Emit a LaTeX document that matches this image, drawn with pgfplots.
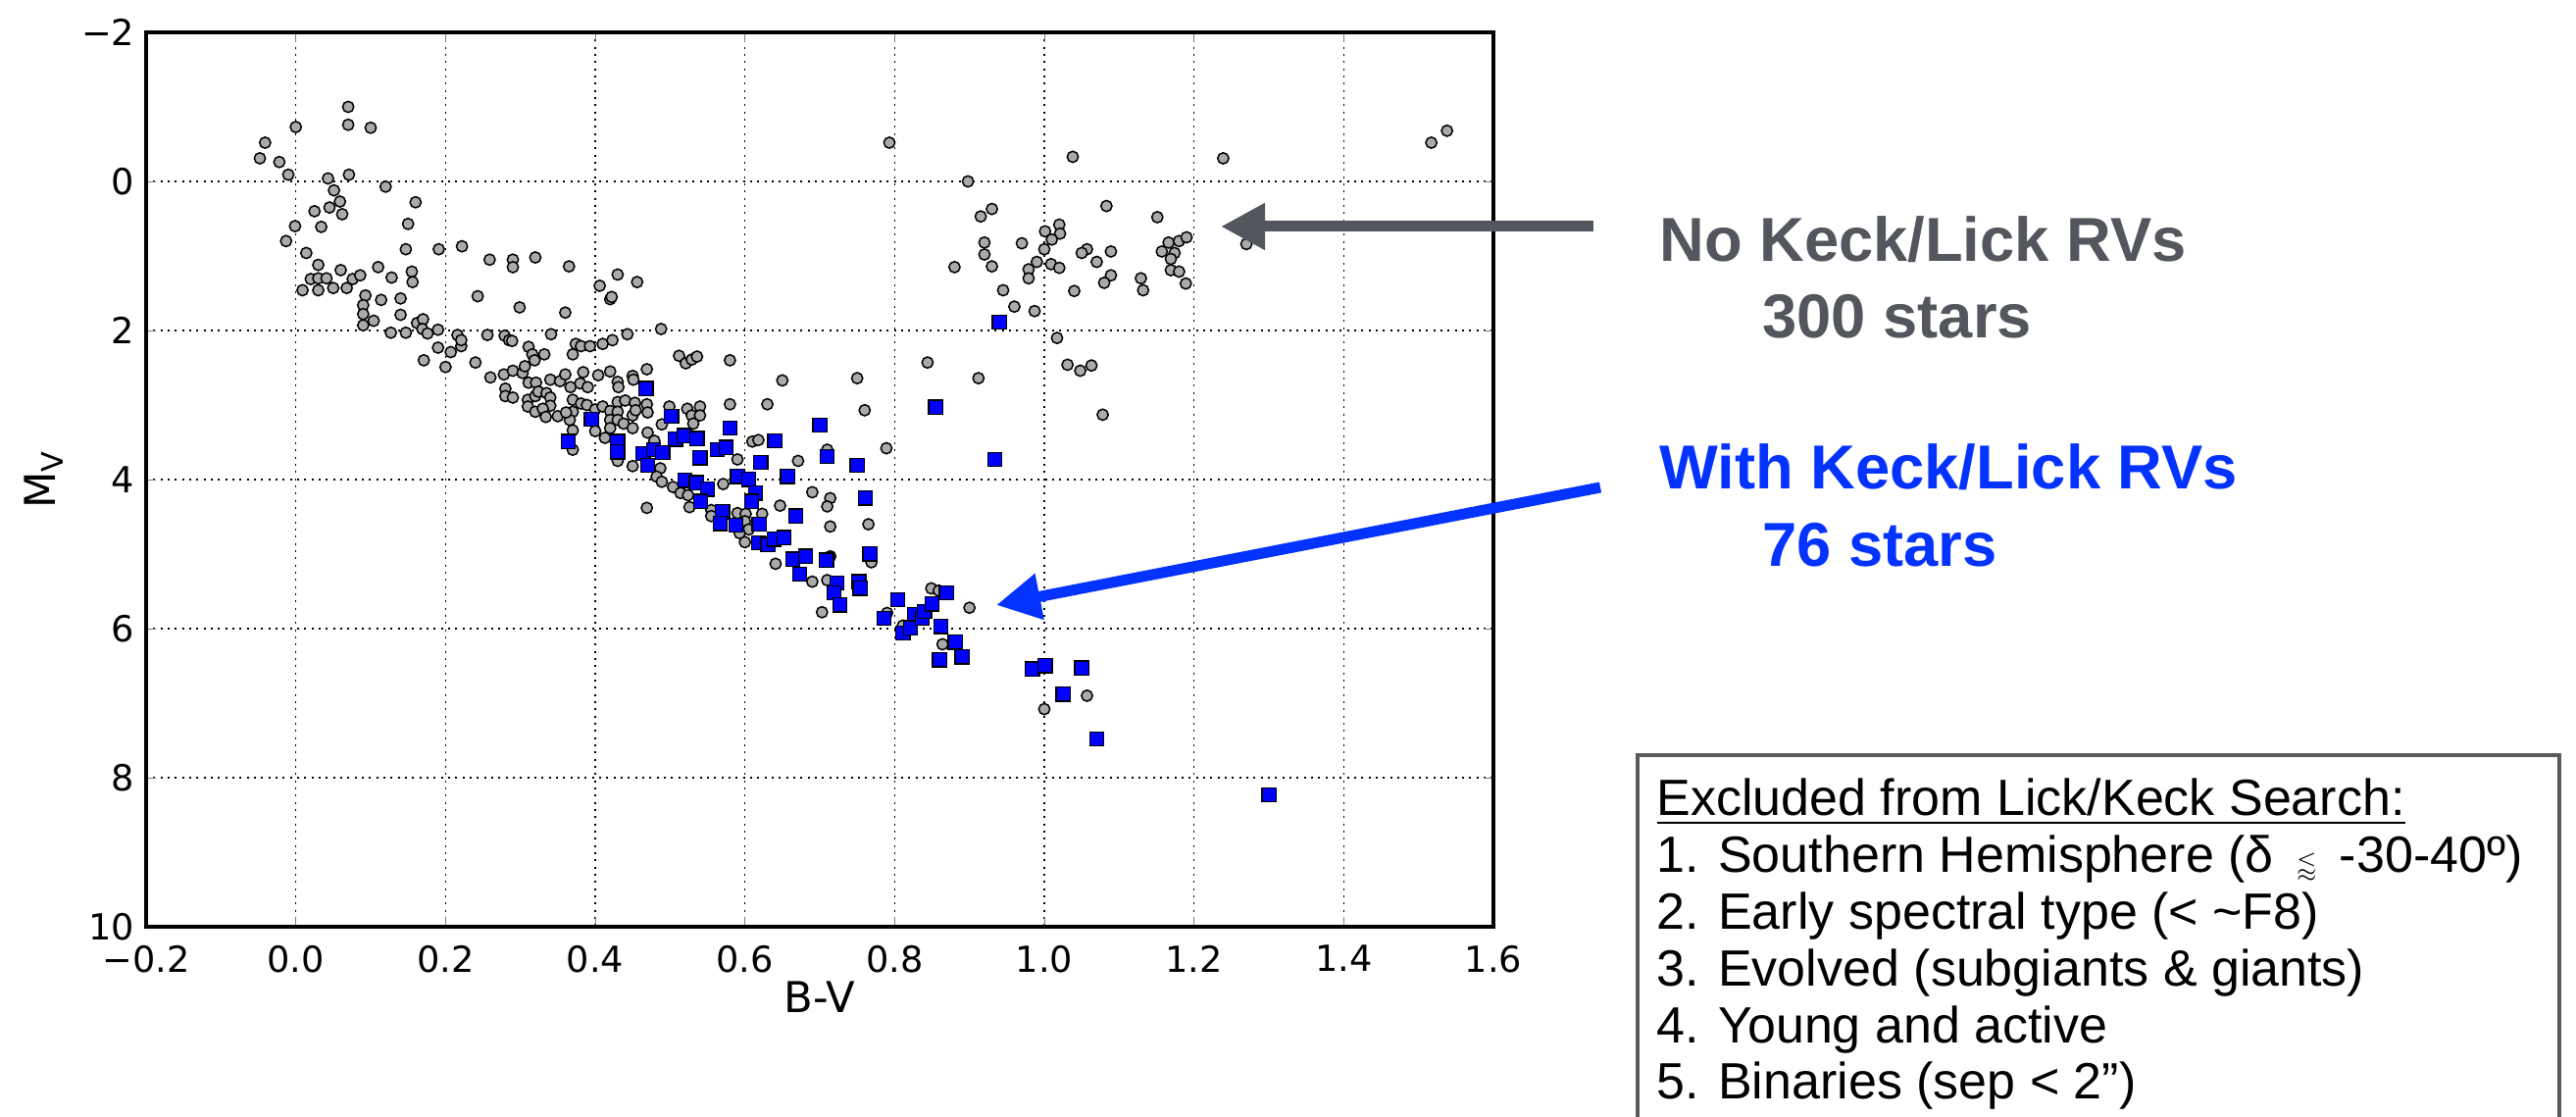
\documentclass[border=0pt]{standalone}
\usepackage{pgfplots}
\pgfplotsset{compat=1.18}
\usepackage{amssymb}
\usepackage{fontspec}
\setmainfont{Liberation Sans}
\newfontfamily\dejavu{DejaVu Sans}
\usetikzlibrary{arrows.meta}
\definecolor{ptgray}{RGB}{170,170,170}
\definecolor{ptblue}{RGB}{0,0,255}
\definecolor{txtgray}{RGB}{83,87,93}
\definecolor{txtblue}{RGB}{4,50,255}
\definecolor{boxgray}{RGB}{90,90,90}

\pgfplotstableread{
x y
0.070 -1.00
0.070 -0.76
0.100 -0.72
0.000 -0.73
-0.041 -0.52
-0.048 -0.31
-0.022 -0.26
-0.010 -0.09
0.071 -0.09
0.043 -0.04
0.120 0.07
0.051 0.12
0.059 0.27
0.045 0.35
0.025 0.40
0.062 0.44
0.160 0.28
0.150 0.57
-0.001 0.60
0.034 0.61
-0.013 0.80
0.014 0.96
0.147 0.91
0.191 0.91
0.222 0.87
0.259 1.05
0.030 1.12
0.060 1.19
0.110 1.15
0.128 1.29
0.155 1.21
0.156 1.35
0.020 1.31
0.030 1.30
0.041 1.30
0.076 1.31
0.086 1.26
0.009 1.46
0.030 1.46
0.050 1.43
0.068 1.43
0.093 1.53
0.090 1.66
0.090 1.78
0.090 1.93
0.104 1.87
0.114 1.59
0.140 1.57
0.140 1.79
0.243 1.54
0.127 2.03
0.147 2.03
0.162 1.90
0.170 1.85
0.169 1.98
0.176 2.04
0.190 1.99
0.190 2.23
0.207 2.29
0.216 2.06
0.221 2.21
0.221 2.13
0.256 2.06
0.279 2.07
0.171 2.40
0.200 2.49
0.240 2.43
0.290 1.05
0.290 1.15
0.320 1.02
0.365 1.14
0.299 1.69
0.360 1.76
0.406 1.40
0.430 1.25
0.456 1.35
0.420 1.58
0.422 1.55
0.488 1.98
0.285 2.13
0.289 2.14
0.311 2.22
0.316 2.32
0.319 2.40
0.332 2.32
0.341 2.05
0.374 2.18
0.370 2.32
0.381 2.21
0.393 2.21
0.410 2.18
0.423 2.13
0.443 2.05
0.512 2.34
0.521 2.44
0.529 2.39
0.536 2.35
0.580 2.40
0.650 2.67
0.260 2.63
0.278 2.59
0.290 2.54
0.303 2.57
0.306 2.48
0.311 2.70
0.321 2.70
0.280 2.78
0.280 2.88
0.290 2.90
0.310 2.93
0.310 3.02
0.320 2.88
0.324 2.82
0.335 2.84
0.340 2.90
0.340 3.01
0.320 3.09
0.330 3.05
0.334 3.16
0.340 2.66
0.350 3.15
0.353 2.68
0.360 2.59
0.367 2.76
0.370 2.93
0.370 3.09
0.366 3.20
0.361 3.10
0.380 2.71
0.384 2.56
0.390 2.76
0.381 2.98
0.389 3.00
0.404 2.60
0.420 2.55
0.430 2.69
0.431 2.76
0.450 2.61
0.451 2.66
0.469 2.52
0.400 3.06
0.410 3.02
0.420 3.08
0.420 3.20
0.420 3.31
0.430 2.96
0.430 3.09
0.430 3.20
0.440 2.94
0.438 3.25
0.450 3.14
0.450 3.31
0.453 2.97
0.454 3.07
0.469 2.99
0.470 3.10
0.470 3.37
0.370 3.34
0.370 3.60
0.400 3.35
0.413 3.44
0.430 3.75
0.450 3.82
0.489 3.26
0.499 3.02
0.523 3.05
0.529 3.14
0.540 3.02
0.540 3.14
0.531 3.25
0.580 2.99
0.630 2.99
0.610 3.49
0.618 3.47
0.590 3.73
0.671 3.75
0.479 3.48
0.487 3.85
0.469 4.38
0.482 3.96
0.489 4.03
0.504 4.10
0.514 4.18
0.524 4.21
0.526 4.37
0.555 4.41
0.555 4.49
0.571 4.06
0.789 3.58
0.690 4.17
0.714 4.25
0.710 4.36
0.714 4.63
0.765 4.60
0.647 4.35
0.590 4.45
0.601 4.46
0.623 4.46
0.600 4.56
0.605 4.67
0.593 4.72
0.600 4.84
0.641 5.13
0.690 5.37
0.710 5.35
0.714 5.03
0.769 5.11
0.703 5.78
0.790 5.79
0.849 5.46
0.710 3.60
0.859 5.49
0.811 5.96
0.900 5.72
0.864 6.21
1.057 6.90
1.000 7.08
0.880 1.15
0.844 2.43
0.912 2.64
0.750 2.64
0.760 3.07
1.038 -0.33
1.239 -0.31
1.517 -0.52
1.538 -0.68
0.930 0.37
0.915 0.47
1.083 0.33
1.151 0.48
1.020 0.58
1.001 0.67
1.021 0.70
1.010 0.78
0.920 0.82
0.970 0.83
1.000 0.91
0.920 0.98
0.930 1.14
0.990 1.08
1.009 1.11
1.020 1.16
0.979 1.18
0.979 1.30
0.945 1.46
0.960 1.68
0.987 1.74
1.057 0.91
1.050 0.96
1.089 0.94
1.070 1.08
1.089 1.26
1.080 1.36
1.040 1.47
1.129 1.30
1.132 1.46
1.166 0.82
1.180 0.80
1.190 0.75
1.157 0.94
1.174 0.96
1.169 1.04
1.169 1.19
1.180 1.21
1.189 1.37
1.270 0.84
1.017 2.10
1.031 2.46
1.048 2.54
1.063 2.47
1.078 3.13
0.793 -0.52
0.898 0.00
}\greydata

\pgfplotstableread{
x y
0.468 2.78
0.395 3.19
0.364 3.49
0.430 3.49
0.430 3.63
0.502 3.15
0.507 3.46
0.519 3.41
0.536 3.45
0.464 3.65
0.478 3.60
0.490 3.64
0.470 3.81
0.540 3.71
0.563 3.60
0.575 3.57
0.580 3.31
0.621 3.77
0.640 3.48
0.520 4.01
0.535 4.04
0.550 4.13
0.541 4.29
0.570 4.43
0.567 4.59
0.710 3.69
0.750 3.81
0.590 3.96
0.605 4.00
0.657 3.96
0.614 4.18
0.609 4.29
0.588 4.61
0.619 4.60
0.618 4.85
0.631 4.87
0.639 4.80
0.652 4.78
0.668 4.49
0.761 4.25
0.664 5.07
0.681 5.03
0.709 5.08
0.767 5.00
0.673 5.27
0.723 5.39
0.752 5.37
0.754 5.46
0.719 5.52
0.727 5.68
0.804 5.61
0.786 5.86
0.811 6.06
0.827 5.81
0.821 5.99
0.837 5.86
0.840 5.77
0.850 5.67
0.869 5.52
0.862 5.97
0.881 6.18
0.890 6.38
0.860 6.42
0.984 6.54
1.001 6.50
1.050 6.53
1.025 6.88
1.070 7.48
0.940 1.89
0.855 3.03
0.934 3.73
0.700 3.27
1.300 8.23
}\bluedata

\begin{document}
\begin{tikzpicture}
\path[use as bounding box] (0,0) rectangle (788.1pt,341.7pt);
\begin{axis}[
  at={(44.7pt,58.2pt)}, anchor=south west,
  scale only axis, width=412.2pt, height=273.6pt,
  xmin=-0.2, xmax=1.6, ymin=-2, ymax=10, y dir=reverse,
  xtick={-0.2,0,0.2,0.4,0.6,0.8,1.0,1.2,1.4,1.6},
  xticklabels={−0.2,0.0,0.2,0.4,0.6,0.8,1.0,1.2,1.4,1.6},
  ytick={-2,0,2,4,6,8,10},
  yticklabels={−2,0,2,4,6,8,10},
  tick label style={font=\dejavu\fontsize{11}{11}\selectfont},
  xticklabel style={yshift=-2.2pt},
  label style={font=\dejavu\fontsize{13}{13}\selectfont},
  xlabel={B-V},
  ylabel={M\textsubscript{V}},
  xlabel style={at={(axis description cs:0.5,-0.079)}, anchor=center},
  ylabel style={at={(axis description cs:-0.0757,0.5)}, anchor=center},
  tick align=inside, tick pos=both, major tick length=3pt,
  axis line style={line width=1pt},
  grid=major,
  major grid style={black, line width=0.4pt, dash pattern=on 0.6pt off 1.6pt},
  clip=true,
]
\addplot[only marks, mark=*, mark size=1.7pt,
  mark options={fill=ptgray, draw=black, line width=0.45pt}] table[x=x,y=y] {\greydata};
\addplot[only marks, mark=square*, mark size=2.15pt,
  mark options={fill=ptblue, draw=black, line width=0.4pt}] table[x=x,y=y] {\bluedata};
\end{axis}
% arrows
\draw[txtgray, line width=3.3pt, -{Triangle[length=13.5pt,width=13.5pt]}] (487.5pt,272.4pt) -- (373.5pt,272.4pt);
\draw[txtblue, line width=3.3pt, -{Triangle[length=13.5pt,width=13.5pt]}] (489.6pt,192.6pt) -- (304.8pt,156.6pt);
% annotation text
\node[anchor=base west, inner sep=0, text=txtgray, font=\bfseries\fontsize{19}{19}\selectfont] at (507.5pt,261.6pt) {No Keck/Lick RVs};
\node[anchor=base west, inner sep=0, text=txtgray, font=\bfseries\fontsize{19}{19}\selectfont] at (539pt,238.2pt) {300 stars};
\node[anchor=base west, inner sep=0, text=txtblue, font=\bfseries\fontsize{19}{19}\selectfont] at (507.5pt,192pt) {With Keck/Lick RVs};
\node[anchor=base west, inner sep=0, text=txtblue, font=\bfseries\fontsize{19}{19}\selectfont] at (539pt,168.4pt) {76 stars};
% box
\draw[boxgray, line width=1.2pt] (501pt,-5pt) rectangle (783pt,110.7pt);
\begin{scope}[every node/.style={anchor=base west, inner sep=0, font=\fontsize{15.6}{15.6}\selectfont}]
\node at (506.7pt,92.2pt) {\underline{Excluded from Lick/Keck Search:}};
\node at (506.7pt,74.8pt) {1. Southern Hemisphere (δ\, {\scriptsize$\lessapprox$}\, -30-40º)};
\node at (506.7pt,57.4pt) {2. Early spectral type (< \textasciitilde F8)};
\node at (506.7pt,40.0pt) {3. Evolved (subgiants \& giants)};
\node at (506.7pt,22.6pt) {4. Young and active};
\node at (506.7pt,5.4pt) {5. Binaries (sep < 2”)};
\end{scope}
\end{tikzpicture}
\end{document}
